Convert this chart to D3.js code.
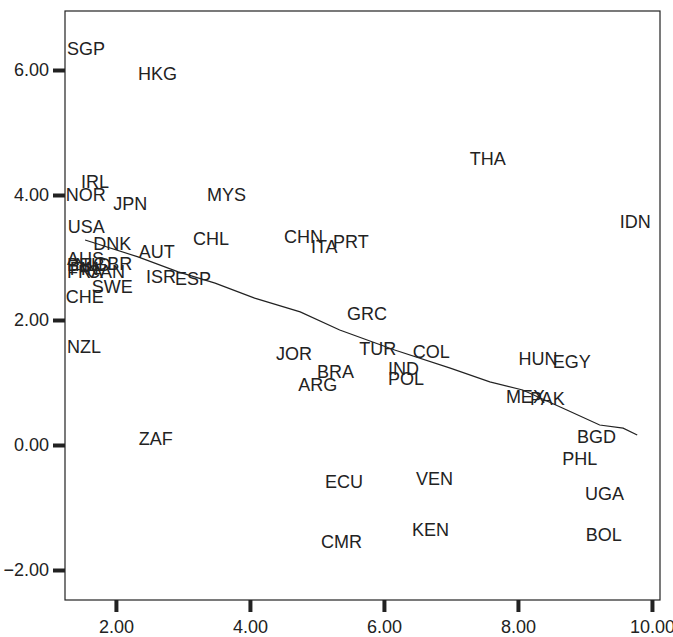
<!DOCTYPE html>
<html>
<head>
<meta charset="utf-8">
<script src="https://cdn.jsdelivr.net/npm/d3@7"></script>
<style>
  body { margin: 0; background: #fff; }
  svg text { font-family: "Liberation Sans", Arial, sans-serif; }
</style>
</head>
<body>
<div id="viz"></div>
<script>
const width = 673;
const height = 637;
const margin = {top: 11, right: 13, bottom: 37, left: 65};

// country labels and their positions
const countries = ['SGP','HKG','IRL','NOR','JPN','MYS','THA','IDN','USA','DNK','CHL','AUT','CHN','ITA','PRT',
  'AUS','BEL','NLD','GBR','FRA','FIN','CAN','SWE','ISR','ESP','CHE','GRC','NZL','JOR','TUR','COL','BRA','IND',
  'ARG','POL','HUN','EGY','MEX','PAK','BGD','PHL','ZAF','ECU','VEN','UGA','KEN','CMR','BOL'];
const xValues = [1.27,2.33,1.48,1.25,1.96,3.36,7.28,9.52,1.28,1.66,3.15,2.34,4.51,4.91,5.24,
  1.27,1.27,1.39,1.66,1.27,1.31,1.57,1.64,2.45,2.88,1.25,5.45,1.27,4.39,5.63,6.43,5.00,6.06,
  4.72,6.06,8.01,8.52,7.82,8.18,8.88,8.66,2.34,5.12,6.48,9.00,6.42,5.06,9.01];
const yValues = [6.34,5.94,4.22,4.00,3.87,4.00,4.59,3.57,3.50,3.23,3.30,3.10,3.33,3.18,3.25,
  2.99,2.88,2.88,2.90,2.78,2.83,2.78,2.54,2.69,2.66,2.38,2.10,1.57,1.47,1.54,1.50,1.18,1.22,
  0.96,1.06,1.38,1.34,0.78,0.75,0.14,-0.22,0.11,-0.59,-0.53,-0.78,-1.36,-1.55,-1.44];

// smoothed fit line
const fitX = [1.54,2.33,2.93,3.48,4.07,4.75,5.34,6.16,6.99,7.58,8.07,8.73,9.22,9.57,9.78];
const fitY = [3.28,3.01,2.77,2.59,2.35,2.13,1.84,1.52,1.23,1.01,0.88,0.56,0.32,0.27,0.16];

const xTicks = [2, 4, 6, 8, 10];
const yTicks = [-2, 0, 2, 4, 6];

const xScale = d3.scaleLinear()
  .domain([1.24, 10.12])
  .range([margin.left, width - margin.right]);

const yScale = d3.scaleLinear()
  .domain([-2.48, 6.944])
  .range([height - margin.bottom, margin.top]);

const svg = d3.select('#viz')
  .append('svg')
    .attr('width', width)
    .attr('height', height);

svg.append('rect')
  .attr('x', margin.left)
  .attr('y', margin.top)
  .attr('width', width - margin.right - margin.left)
  .attr('height', height - margin.bottom - margin.top)
  .attr('fill', 'none')
  .attr('stroke', '#222')
  .attr('stroke-width', 1.2);

const xAxis = svg.append('g')
  .attr('class', 'x-axis')
  .attr('transform', `translate(0, ${height - margin.bottom})`)
  .call(d3.axisBottom(xScale).tickValues(xTicks).tickFormat(d3.format('.2f')).tickSizeOuter(0).tickSize(12).tickPadding(8));

const yAxis = svg.append('g')
  .attr('class', 'y-axis')
  .attr('transform', `translate(${margin.left}, 0)`)
  .call(d3.axisLeft(yScale).tickValues(yTicks).tickFormat(d3.format('.2f')).tickSizeOuter(0).tickSize(12).tickPadding(4));

[xAxis, yAxis].forEach(ax => {
  ax.select('.domain').remove();
  ax.selectAll('.tick line').attr('stroke', '#222').attr('stroke-width', 4);
  ax.selectAll('.tick text').attr('fill', '#222').attr('font-size', 18);
});

const fitPoints = fitX.map((x, i) => [x, fitY[i]]);
const lineGenerator = d3.line()
  .x(d => xScale(d[0]))
  .y(d => yScale(d[1]));

svg.append('path')
  .attr('d', lineGenerator(fitPoints))
  .attr('fill', 'none')
  .attr('stroke', '#222')
  .attr('stroke-width', 1.2);

svg.append('g')
  .attr('class', 'labels')
  .selectAll('text')
  .data(countries)
  .join('text')
  .attr('x', (d, i) => xScale(xValues[i]))
  .attr('y', (d, i) => yScale(yValues[i]))
  .attr('dy', '0.36em')
  .attr('font-size', 18)
  .attr('fill', '#222')
  .text(d => d);
</script>
</body>
</html>
